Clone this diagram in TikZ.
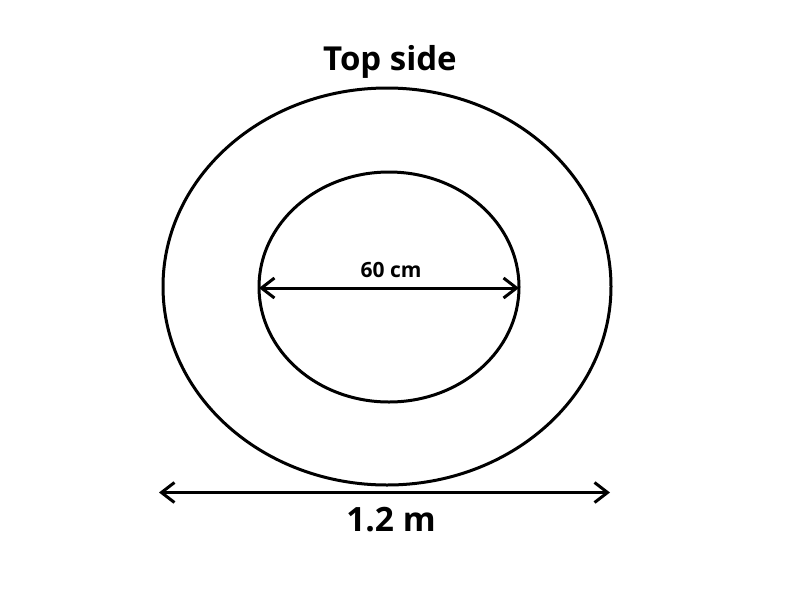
\documentclass[tikz,border=0pt]{standalone}
\usepackage{fontspec}
\setmainfont{Open Sans}
\usetikzlibrary{arrows.meta}
\begin{document}
\begin{tikzpicture}[x=1pt,y=-1pt,
  ring/.style={draw=black,line width=3pt},
  dim/.style={draw=black,line width=3pt,{Straight Barb[length=13pt,width=20pt,line width=3pt]}-{Straight Barb[length=13pt,width=20pt,line width=3pt]}},
  lbl/.style={font=\bfseries,inner sep=0pt}]
\useasboundingbox (0,0) rectangle (800,600);
\draw[ring] (387,286.5) ellipse [x radius=224, y radius=198.5];
\draw[ring] (389,287) ellipse [x radius=130, y radius=115];
\coordinate (ia) at (259,288);
\coordinate (ib) at (519,288);
\coordinate (oa) at (159,492.5);
\coordinate (ob) at (610,492.5);
\draw[dim] (ia) -- (ib);
\draw[dim] (oa) -- (ob);
\node[lbl,font=\fontsize{33}{38}\selectfont\bfseries] (top) at (390,62) {Top side};
\node[lbl,font=\fontsize{21}{24}\selectfont\bfseries] (inner) at (391,270) {60 cm};
\node[lbl,font=\fontsize{33.5}{38}\selectfont\bfseries] (outer) at (391,520) {1.2 m};
\end{tikzpicture}
\end{document}
